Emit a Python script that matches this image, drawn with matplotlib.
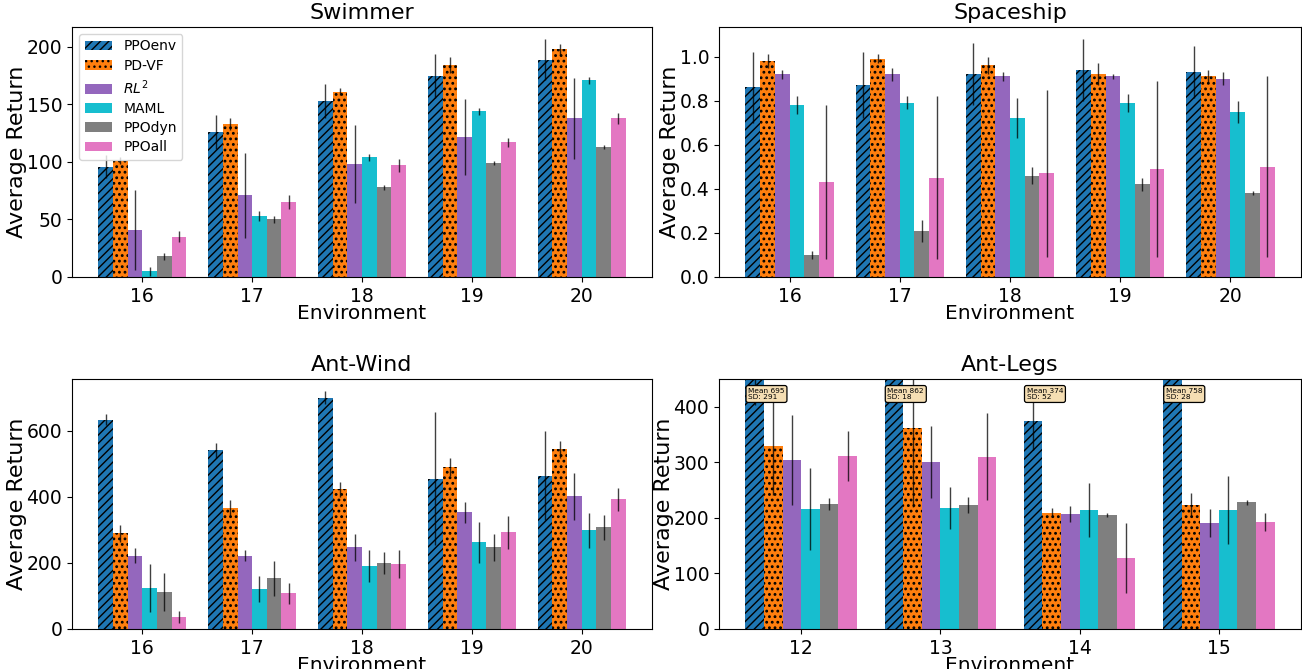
import matplotlib
matplotlib.use("Agg")
import matplotlib.pyplot as plt
import numpy as np

methods = ['PPOenv', 'PD-VF', '$RL^2$', 'MAML', 'PPOdyn', 'PPOall']
colors = ['#1f77b4', '#ff7f0e', '#9467bd', '#17becf', '#7f7f7f', '#e377c2']
hatches = ['////', '...', None, None, None, None]
hatch_lws = [1.0, 1.25, 1.0, 1.0, 1.0, 1.0]

# Swimmer
swim_envs = [16, 17, 18, 19, 20]
swim_ppoenv = [96, 126, 153, 175, 189]
swim_ppoenv_sd = [10, 15, 15, 19, 18]
swim_pdvf = [101, 133, 161, 184, 198]
swim_pdvf_sd = [3, 5, 3, 7, 5]
swim_rl2 = [41, 71, 98, 122, 138]
swim_rl2_sd = [35, 37, 34, 33, 35]
swim_maml = [5, 53, 104, 144, 171]
swim_maml_sd = [4, 4, 3, 3, 3]
swim_ppodyn = [18, 50, 78, 99, 113]
swim_ppodyn_sd = [3, 3, 2, 2, 2]
swim_ppoall = [35, 65, 97, 117, 138]
swim_ppoall_sd = [5, 6, 6, 4, 5]

# Spaceship
ship_envs = [16, 17, 18, 19, 20]
ship_ppoenv = [0.86, 0.87, 0.92, 0.94, 0.93]
ship_ppoenv_sd = [0.16, 0.15, 0.14, 0.14, 0.12]
ship_pdvf = [0.98, 0.99, 0.96, 0.92, 0.91]
ship_pdvf_sd = [0.03, 0.02, 0.04, 0.05, 0.03]
ship_rl2 = [0.92, 0.92, 0.91, 0.91, 0.90]
ship_rl2_sd = [0.02, 0.03, 0.02, 0.01, 0.03]
ship_maml = [0.78, 0.79, 0.72, 0.79, 0.75]
ship_maml_sd = [0.04, 0.03, 0.09, 0.04, 0.05]
ship_ppodyn = [0.10, 0.21, 0.46, 0.42, 0.38]
ship_ppodyn_sd = [0.02, 0.05, 0.04, 0.03, 0.01]
ship_ppoall = [0.43, 0.45, 0.47, 0.49, 0.50]
ship_ppoall_sd = [0.35, 0.37, 0.38, 0.40, 0.41]

# Ant-Wind
wind_envs = [16, 17, 18, 19, 20]
wind_ppoenv = [633, 540, 700, 455, 464]
wind_ppoenv_sd = [17, 23, 20, 200, 134]
wind_pdvf = [289, 365, 422, 491, 543]
wind_pdvf_sd = [25, 25, 22, 27, 25]
wind_rl2 = [222, 222, 247, 353, 401]
wind_rl2_sd = [22, 17, 40, 32, 72]
wind_maml = [124, 121, 190, 262, 298]
wind_maml_sd = [72, 38, 48, 63, 52]
wind_ppodyn = [112, 154, 199, 247, 307]
wind_ppodyn_sd = [58, 53, 34, 40, 38]
wind_ppoall = [36, 108, 196, 292, 392]
wind_ppoall_sd = [18, 31, 42, 49, 35]

# Ant-Legs
legs_envs = [12, 13, 14, 15]
legs_ppoenv = [695, 862, 374, 758]
legs_ppoenv_sd = [291, 18, 52, 28]
legs_pdvf = [329, 362, 209, 223]
legs_pdvf_sd = [88, 142, 8, 22]
legs_rl2 = [304, 300, 207, 191]
legs_rl2_sd = [81, 65, 15, 25]
legs_maml = [216, 218, 214, 214]
legs_maml_sd = [73, 38, 49, 61]
legs_ppodyn = [225, 223, 205, 228]
legs_ppodyn_sd = [10, 14, 3, 4]
legs_ppoall = [311, 310, 128, 193]
legs_ppoall_sd = [45, 78, 63, 16]

panels = [
    ('Swimmer', swim_envs,
     [swim_ppoenv, swim_pdvf, swim_rl2, swim_maml, swim_ppodyn, swim_ppoall],
     [swim_ppoenv_sd, swim_pdvf_sd, swim_rl2_sd, swim_maml_sd, swim_ppodyn_sd, swim_ppoall_sd]),
    ('Spaceship', ship_envs,
     [ship_ppoenv, ship_pdvf, ship_rl2, ship_maml, ship_ppodyn, ship_ppoall],
     [ship_ppoenv_sd, ship_pdvf_sd, ship_rl2_sd, ship_maml_sd, ship_ppodyn_sd, ship_ppoall_sd]),
    ('Ant-Wind', wind_envs,
     [wind_ppoenv, wind_pdvf, wind_rl2, wind_maml, wind_ppodyn, wind_ppoall],
     [wind_ppoenv_sd, wind_pdvf_sd, wind_rl2_sd, wind_maml_sd, wind_ppodyn_sd, wind_ppoall_sd]),
    ('Ant-Legs', legs_envs,
     [legs_ppoenv, legs_pdvf, legs_rl2, legs_maml, legs_ppodyn, legs_ppoall],
     [legs_ppoenv_sd, legs_pdvf_sd, legs_rl2_sd, legs_maml_sd, legs_ppodyn_sd, legs_ppoall_sd]),
]

W, H = 1302, 669
fig = plt.figure(figsize=(W / 100, H / 100), dpi=100)
rects = [
    (72 / W, 1 - 277 / H, 580 / W, 250 / H),
    (719 / W, 1 - 277 / H, 582 / W, 250 / H),
    (72 / W, 1 - 629 / H, 580 / W, 250 / H),
    (719 / W, 1 - 629 / H, 582 / W, 250 / H),
]

bw = 0.8 / 6
for (title, envs, vals, sds), rect in zip(panels, rects):
    ax = fig.add_axes(rect)
    x = np.array(envs, dtype=float)
    for i, (m, v, s) in enumerate(zip(methods, vals, sds)):
        with plt.rc_context({'hatch.linewidth': hatch_lws[i]}):
            bars = ax.bar(x + (i - 2.5) * bw, v, bw, yerr=s, color=colors[i],
                          hatch=hatches[i], edgecolor='black', linewidth=0, label=m,
                          error_kw=dict(ecolor='black', elinewidth=1.0, alpha=0.75,
                                        capsize=0))
            for p in bars.patches:
                if hasattr(p, 'set_hatch_linewidth'):
                    p.set_hatch_linewidth(hatch_lws[i])
    ax.set_title(title, fontsize=16)
    ax.set_xlabel('Environment', fontsize=14.5, labelpad=-1)
    ax.set_ylabel('Average Return', fontsize=16, labelpad=0)
    ax.set_xticks(x)
    ax.set_xticklabels([str(e) for e in envs])
    ax.tick_params(labelsize=13.5)
    if title == 'Swimmer':
        ax.legend(loc='upper left', fontsize=10, labelspacing=0.38)
    if title == 'Ant-Legs':
        ax.set_ylim(0, 450)
        for xi, m, s in zip(x, vals[0], sds[0]):
            ax.text(xi - 0.4 + 0.02, 423, f"Mean {m}\nSD: {s}", fontsize=5.3,
                    ha='left', va='center', linespacing=1.1,
                    bbox=dict(boxstyle='round,pad=0.3', facecolor='wheat',
                              edgecolor='black', linewidth=0.9))

fig.savefig('out.png', dpi=100)
